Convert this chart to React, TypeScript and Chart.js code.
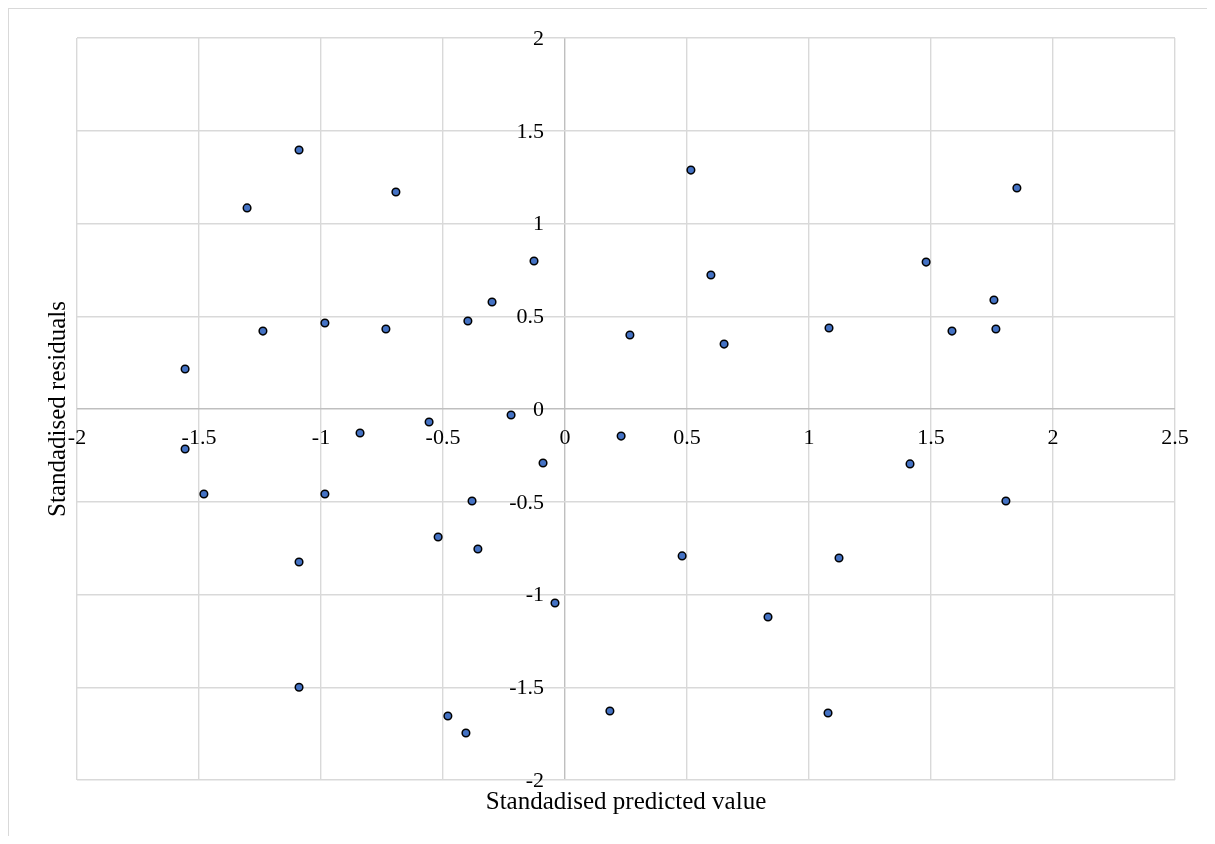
import { useEffect, useRef } from 'react';
import { Chart, registerables } from 'chart.js';

Chart.register(...registerables);

// Standardised predicted values (x) and standardised residuals (y)
const predicted = [
  -1.557, -1.557, -1.48, -1.303, -1.238, -1.09, -1.09, -1.09, -0.984, -0.984,
  -0.84, -0.734, -0.693, -0.557, -0.52, -0.48, -0.381, -0.357, -0.406, -0.398,
  -0.299, -0.221, -0.127, -0.09, -0.041, 0.23, 0.184, 0.266, 0.48, 0.516,
  0.598, 0.652, 0.832, 1.078, 1.082, 1.123, 1.414, 1.48, 1.586, 1.758,
  1.766, 1.807, 1.852,
];
const residuals = [
  0.216, -0.216, -0.458, 1.084, 0.42, 1.396, -0.825, -1.5, 0.464, -0.458,
  -0.129, 0.431, 1.17, -0.07, -0.69, -1.655, -0.496, -0.755, -1.747, 0.474,
  0.577, -0.032, 0.798, -0.291, -1.046, -0.146, -1.628, 0.399, -0.792, 1.288,
  0.722, 0.35, -1.121, -1.639, 0.437, -0.803, -0.296, 0.792, 0.42, 0.588,
  0.431, -0.496, 1.191,
];

const xTickValues = [-2, -1.5, -1, -0.5, 0, 0.5, 1, 1.5, 2, 2.5];
const xTickLabels = ['-2', '-1.5', '-1', '-0.5', '0', '0.5', '1', '1.5', '2', '2.5'];
const yTickValues = [2, 1.5, 1, 0.5, 0, -0.5, -1, -1.5, -2];
const yTickLabels = ['2', '1.5', '1', '0.5', '0', '-0.5', '-1', '-1.5', '-2'];

const xTitle = 'Standadised predicted value';
const yTitle = 'Standadised residuals';

const FONT = '"Liberation Serif", "Times New Roman", serif';

const crossTickLabels = {
  id: 'crossTickLabels',
  beforeDatasetsDraw(chart: any) {
    const { ctx, scales } = chart;
    const x = scales.x;
    const y = scales.y;
    const x0 = x.getPixelForValue(0);
    const y0 = y.getPixelForValue(0);
    ctx.save();
    ctx.font = `22px ${FONT}`;
    ctx.fillStyle = '#000000';
    ctx.textBaseline = 'middle';
    ctx.textAlign = 'center';
    xTickValues.forEach((v, i) => {
      ctx.fillText(xTickLabels[i], x.getPixelForValue(v), y0 + 29);
    });
    ctx.textAlign = 'right';
    yTickValues.forEach((v, i) => {
      ctx.fillText(yTickLabels[i], x0 - 21, y.getPixelForValue(v) + 1);
    });
    ctx.restore();
  },
};

const gridColor = (c: any) => (c.tick && c.tick.value === 0 ? '#bfbfbf' : '#d9d9d9');

export default function App() {
  const ref = useRef<HTMLCanvasElement | null>(null);

  useEffect(() => {
    if (!ref.current) return;
    const chart = new Chart(ref.current, {
      type: 'scatter',
      data: {
        datasets: [
          {
            label: 'Residuals',
            data: predicted.map((p, i) => ({ x: p, y: residuals[i] })),
            backgroundColor: '#4472c4',
            borderColor: '#000000',
            borderWidth: 1.5,
            pointRadius: 3.8,
            pointHoverRadius: 3.8,
          },
        ],
      },
      options: {
        responsive: false,
        animation: false,
        devicePixelRatio: 1,
        layout: { padding: { left: 30, top: 29, right: 40, bottom: 15 } },
        plugins: {
          legend: { display: false },
          tooltip: { enabled: false },
          title: { display: false },
        },
        scales: {
          x: {
            type: 'linear',
            position: 'bottom',
            min: -2,
            max: 2.5,
            ticks: { stepSize: 0.5, display: false },
            grid: { color: gridColor, lineWidth: 1.4, drawTicks: false },
            border: { display: false },
            title: {
              display: true,
              text: xTitle,
              color: '#000000',
              font: { family: FONT, size: 25 },
              padding: { top: 7, bottom: 4 },
            },
          },
          y: {
            type: 'linear',
            position: 'left',
            min: -2,
            max: 2,
            ticks: { stepSize: 0.5, display: false },
            grid: { color: gridColor, lineWidth: 1.4, drawTicks: false },
            border: { display: false },
            title: {
              display: true,
              text: yTitle,
              color: '#000000',
              font: { family: FONT, size: 25 },
              padding: { top: 4, bottom: 4 },
            },
          },
        },
      },
      plugins: [crossTickLabels],
    });
    return () => chart.destroy();
  }, []);

  return (
    <div
      style={{
        width: 1207,
        height: 828,
        marginRight: -8,
        borderLeft: '1px solid #d9d9d9',
        borderTop: '1px solid #d9d9d9',
        boxSizing: 'border-box',
        background: '#ffffff',
        overflow: 'hidden',
      }}
    >
      <canvas ref={ref} width={1206} height={827} style={{ display: 'block' }} />
    </div>
  );
}
